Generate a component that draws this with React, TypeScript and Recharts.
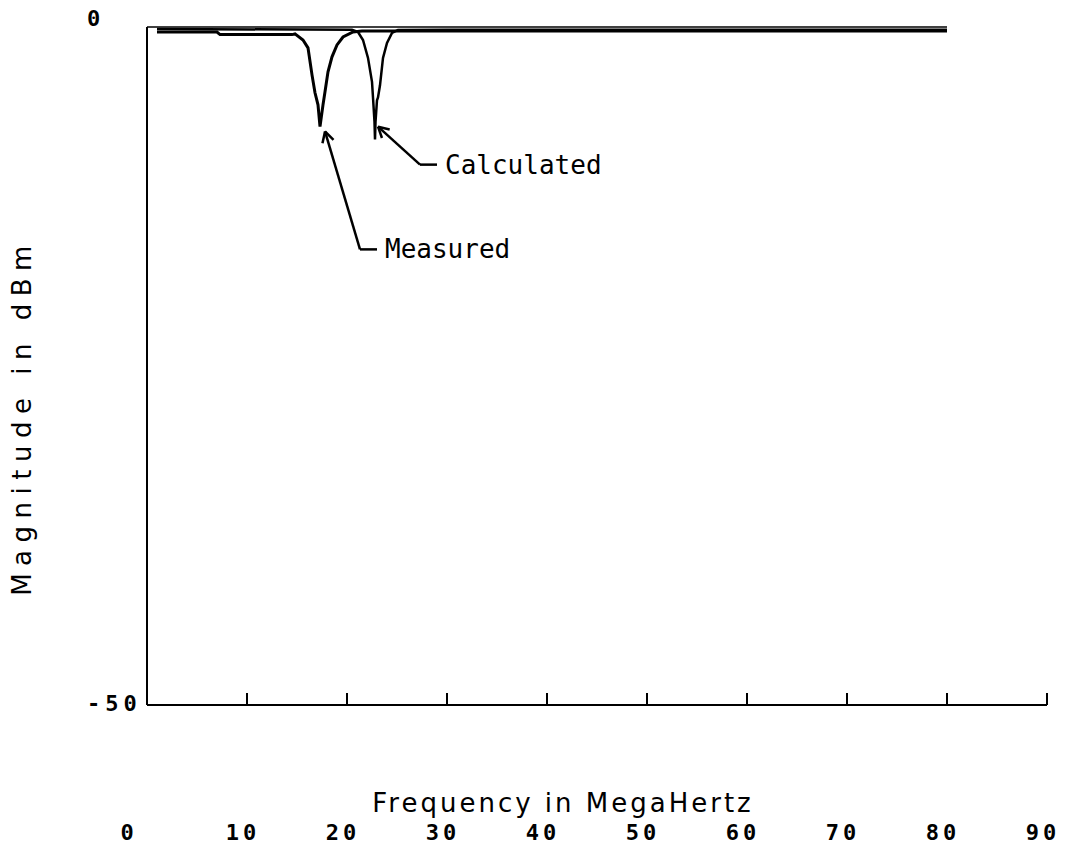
import { LineChart, Line, XAxis, YAxis, ReferenceLine, Label } from "recharts";

// frequency (MHz) / magnitude (dBm)
const MEASURED_MHZ = [1.0, 7.0, 7.3, 14.5, 14.8, 15.6, 16.1, 16.5, 16.8, 17.1, 17.3, 17.6, 17.8, 18.1, 18.5, 19.0, 19.6, 20.6, 21.5, 30, 40, 50, 60, 70, 80];
const MEASURED_DBM = [-0.37, -0.37, -0.56, -0.56, -0.51, -0.96, -1.54, -3.53, -4.85, -5.74, -7.35, -5.74, -4.78, -3.31, -2.2, -1.32, -0.74, -0.37, -0.3, -0.3, -0.3, -0.3, -0.3, -0.3, -0.3];

const CALCULATED_MHZ = [1.0, 20.5, 21.1, 21.6, 22.1, 22.5, 22.6, 22.75, 22.8, 22.85, 23.0, 23.1, 23.3, 23.6, 24.0, 24.5, 25.1, 30, 40, 50, 60, 70, 80];
const CALCULATED_DBM = [-0.15, -0.2, -0.37, -0.96, -2.28, -4.04, -5.2, -7.0, -8.3, -7.0, -5.4, -5.2, -4.3, -2.28, -1.18, -0.44, -0.22, -0.2, -0.2, -0.2, -0.2, -0.2, -0.2];

const X_TICKS = [0, 10, 20, 30, 40, 50, 60, 70, 80, 90];
const Y_TICKS = [0, -50];

// annotation arrows, in MHz / dBm
const MEASURED_ARROW = [{ x: 17.8, y: -7.7 }, { x: 21.3, y: -16.4 }, { x: 23.0, y: -16.4 }];
const CALCULATED_ARROW = [{ x: 23.1, y: -7.35 }, { x: 27.3, y: -10.15 }, { x: 29.0, y: -10.15 }];

const measured = MEASURED_MHZ.map((mhz, i) => ({ mhz, dbm: MEASURED_DBM[i] }));
const calculated = CALCULATED_MHZ.map((mhz, i) => ({ mhz, dbm: CALCULATED_DBM[i] }));

const MONO = "'DejaVu Sans Mono', monospace";
const SANS = "'DejaVu Sans', sans-serif";

const XTick = ({ x, y, payload }: any) => (
  <g>
    {payload.value !== 0 && (
      <line x1={x} x2={x} y1={y} y2={y - 12} stroke="#000" strokeWidth={2} />
    )}
    <text
      x={x + (payload.value === 0 ? -18 : -4)}
      y={y + 135}
      textAnchor="middle"
      fontFamily={MONO}
      fontWeight="bold"
      fontSize={22}
      letterSpacing={4}
      fill="#000"
    >
      {payload.value}
    </text>
  </g>
);

const YTick = ({ x, y, payload }: any) => (
  <text
    x={x - 60}
    y={y + (payload.value === 0 ? -1 : 6)}
    textAnchor="start"
    fontFamily={MONO}
    fontWeight="bold"
    fontSize={22}
    letterSpacing={5}
    fill="#000"
  >
    {payload.value}
  </text>
);

// arrow: line with open head at the first point
const arrowShape = (props: any) => {
  const { x1, y1, x2, y2 } = props;
  const a = Math.atan2(y2 - y1, x2 - x1);
  const h = 12;
  return (
    <g>
      <line x1={x1} y1={y1} x2={x2} y2={y2} stroke="#000" strokeWidth={2.5} />
      <line x1={x1} y1={y1} x2={x1 + h * Math.cos(a + 0.5)} y2={y1 + h * Math.sin(a + 0.5)} stroke="#000" strokeWidth={2.5} />
      <line x1={x1} y1={y1} x2={x1 + h * Math.cos(a - 0.5)} y2={y1 + h * Math.sin(a - 0.5)} stroke="#000" strokeWidth={2.5} />
    </g>
  );
};

const leaderShape = (text: string) => (props: any) => {
  const { x1, y1, x2, y2 } = props;
  return (
    <g>
      <line x1={x1} y1={y1} x2={x2} y2={y2} stroke="#000" strokeWidth={2.5} />
      <text x={x2 + 8} y={y2 + 9} fontFamily={MONO} fontSize={26} fill="#000">
        {text}
      </text>
    </g>
  );
};

export default function App() {
  return (
    <div style={{ position: "absolute", left: 0, top: 0, width: 1065, height: 853, background: "#fff" }}>
      <LineChart width={1065} height={853} margin={{ top: 27, right: 18, left: 0, bottom: 0 }}>
        <XAxis
          type="number"
          dataKey="mhz"
          domain={[0, 90]}
          ticks={X_TICKS}
          interval={0}
          height={148}
          tickSize={0}
          tickMargin={0}
          tickLine={false}
          axisLine={{ stroke: "#000", strokeWidth: 2 }}
          tick={<XTick />}
        >
          <Label
            content={({ viewBox }: any) => (
              <text
                x={viewBox.x + viewBox.width / 2 - 34}
                y={viewBox.y + 107}
                textAnchor="middle"
                fontFamily={SANS}
                fontSize={26}
                letterSpacing={3}
                fill="#000"
              >
                Frequency in MegaHertz
              </text>
            )}
          />
        </XAxis>
        <YAxis
          type="number"
          dataKey="dbm"
          domain={[-50, 0]}
          ticks={Y_TICKS}
          interval={0}
          width={147}
          tickSize={0}
          tickMargin={0}
          tickLine={false}
          axisLine={{ stroke: "#000", strokeWidth: 2 }}
          tick={<YTick />}
        >
          <Label
            content={() => (
              <text
                x={22}
                y={417}
                transform="rotate(-90 22 417)"
                textAnchor="middle"
                dominantBaseline="central"
                fontFamily={SANS}
                fontSize={26}
                letterSpacing={7.5}
                fill="#000"
              >
                Magnitude in dBm
              </text>
            )}
          />
        </YAxis>
        <ReferenceLine
          segment={[{ x: 0, y: 0 }, { x: 80, y: 0 }]}
          stroke="#000"
          strokeWidth={1.5}
          ifOverflow="visible"
        />
        <Line
          data={measured}
          dataKey="dbm"
          type="linear"
          stroke="#000"
          strokeWidth={3}
          dot={false}
          isAnimationActive={false}
        />
        <Line
          data={calculated}
          dataKey="dbm"
          type="linear"
          stroke="#000"
          strokeWidth={2.5}
          dot={false}
          isAnimationActive={false}
        />
        <ReferenceLine segment={[MEASURED_ARROW[0], MEASURED_ARROW[1]]} shape={arrowShape} ifOverflow="visible" />
        <ReferenceLine segment={[MEASURED_ARROW[1], MEASURED_ARROW[2]]} shape={leaderShape("Measured")} ifOverflow="visible" />
        <ReferenceLine segment={[CALCULATED_ARROW[0], CALCULATED_ARROW[1]]} shape={arrowShape} ifOverflow="visible" />
        <ReferenceLine segment={[CALCULATED_ARROW[1], CALCULATED_ARROW[2]]} shape={leaderShape("Calculated")} ifOverflow="visible" />
      </LineChart>
    </div>
  );
}
